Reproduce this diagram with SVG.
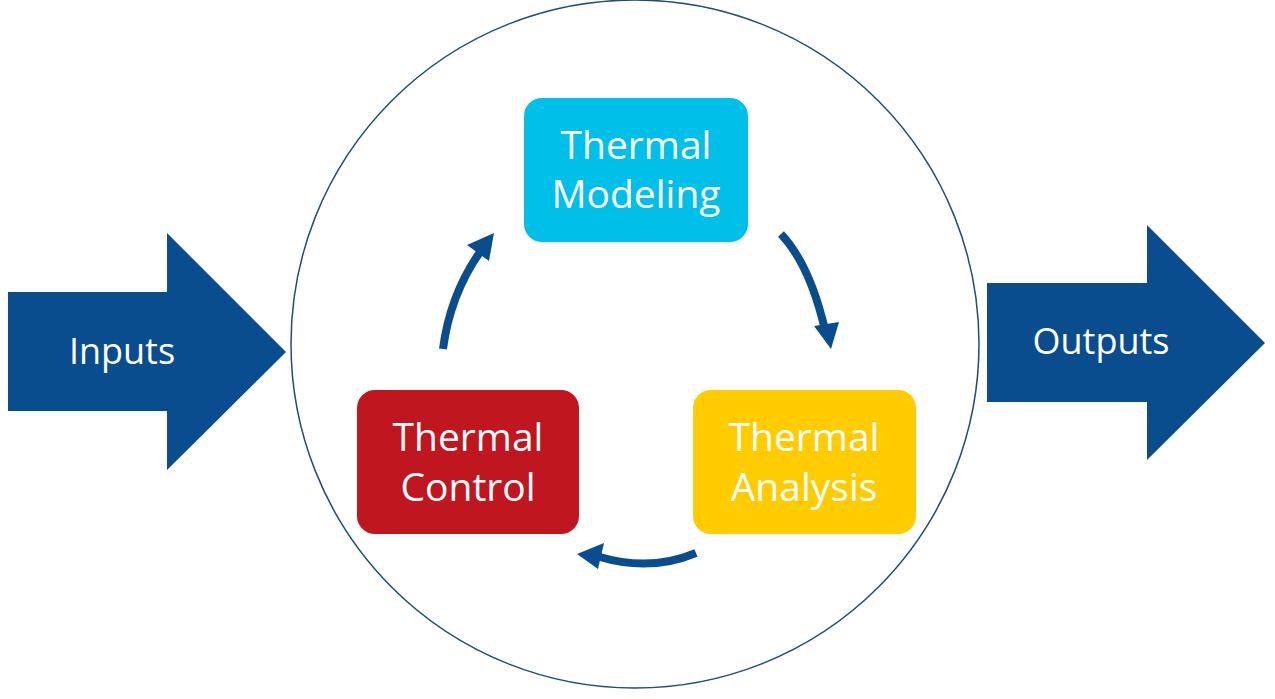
<svg xmlns="http://www.w3.org/2000/svg" width="1275" height="699" viewBox="0 0 1275 699">
<style>
.lbl{font-family:"Open Sans","Noto Sans","Liberation Sans",sans-serif;font-size:39px;fill:#ffffff;text-anchor:middle}
.big{fill:#0A4D8F}
.conn{fill:none;stroke:#0A4D8F;stroke-width:8}
.head{fill:#0A4D8F}
</style>
<rect width="1275" height="699" fill="#ffffff"/>
<g id="cycle-circle"><circle cx="635" cy="344" r="344" fill="none" stroke="#1F4E79" stroke-width="1.5"/></g>
<g id="inputs">
<polygon class="big" points="8,292 167,292 167,233 286,352 167,470 167,411 8,411"/>
<text class="lbl" x="122" y="364" style="font-size:36px">Inputs</text>
</g>
<g id="outputs">
<polygon class="big" points="987,283 1147,283 1147,225 1265,343 1147,460 1147,402 987,402"/>
<text class="lbl" x="1101" y="354" style="font-size:36px">Outputs</text>
</g>
<g id="thermal-modeling">
<rect x="524" y="98" width="224" height="144" rx="18" fill="#00BFE8"/>
<text class="lbl" x="636" y="159">Thermal</text>
<text class="lbl" x="636" y="208">Modeling</text>
</g>
<g id="thermal-control">
<rect x="357" y="390" width="222" height="144" rx="18" fill="#C0161F"/>
<text class="lbl" x="468" y="451">Thermal</text>
<text class="lbl" x="468" y="501">Control</text>
</g>
<g id="thermal-analysis">
<rect x="693" y="390" width="223" height="144" rx="18" fill="#FFCC00"/>
<text class="lbl" x="804" y="451">Thermal</text>
<text class="lbl" x="804" y="501">Analysis</text>
</g>
<g id="connectors">
<path class="conn" d="M443,349 Q450,295 480,252"/>
<polygon class="head" points="494,233 467,245 489,261"/>
<path class="conn" d="M781,234 Q810,265 825,330"/>
<polygon class="head" points="831,349 814,326 839,322"/>
<path class="conn" d="M696,553 Q650,572 600,557"/>
<polygon class="head" points="577,554 604,543 598,569"/>
</g>
</svg>
